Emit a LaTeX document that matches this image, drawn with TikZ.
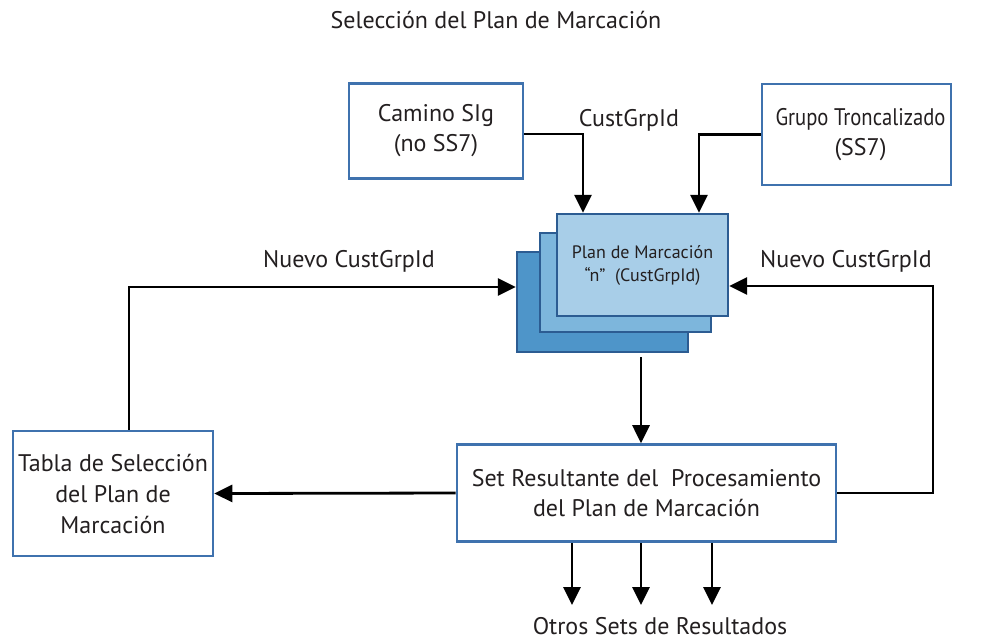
\documentclass[tikz,border=0pt]{standalone}
\usepackage{graphicx}
\usepackage{fontspec}
\setmainfont{PT Sans}
\usetikzlibrary{arrows.meta}
\definecolor{bord}{HTML}{3F72AE}
\definecolor{sbord}{HTML}{2C5C92}
\definecolor{f1}{HTML}{A8CEE8}
\definecolor{f2}{HTML}{7DB6DC}
\definecolor{f3}{HTML}{4E95C9}
\definecolor{txt}{HTML}{231F20}
\tikzset{
  box/.style={draw=bord, line width=2.6pt, fill=white, align=center, text=txt, font=\fontsize{24}{30}\selectfont, inner sep=0pt},
  sbox/.style={draw=sbord, line width=2.4pt, minimum width=171pt, inner sep=0pt, align=center, text=txt},
  arr/.style={line width=2.8pt, -{Triangle[width=17pt,length=18pt]}},
  lbl/.style={text=txt, font=\fontsize{24}{28}\selectfont, inner sep=0pt},
}
\begin{document}
\begin{tikzpicture}[x=1pt,y=-1pt]
\useasboundingbox (0,0) rectangle (995,641);
\node[lbl] (title) at (496,20) {Selección del Plan de Marcación};
\node[box, minimum width=174pt, minimum height=95pt] (camino) at (436,131) {Camino SIg\\(no SS7)};
\node[box, minimum width=189pt, minimum height=101pt] (grupo) at (856.5,134.5) {\hspace*{8pt}\scalebox{0.86}[1]{Grupo Troncalizado}\\\hspace*{8pt}(SS7)};
\node[sbox, fill=f3, minimum height=100pt] (back) at (602.5,302) {};
\node[sbox, fill=f2, minimum height=99pt] (mid) at (625.5,282.5) {};
\node[sbox, fill=f1, minimum height=102pt, font=\fontsize{18}{24}\selectfont] (front) at (642.5,265) {Plan de Marcación\\[-1pt]``n''\ \ (CustGrpId)};
\node[box, minimum width=379pt, minimum height=97pt] (set) at (646.5,493) {Set Resultante del\ \ Procesamiento\\del Plan de Marcación};
\node[box, minimum width=200pt, minimum height=125pt, font=\fontsize{24}{31}\selectfont] (tabla) at (113,493.5) {Tabla de Selección\\del Plan de\\Marcación};
\node[lbl] (cg) at (629,120) {CustGrpId};
\node[lbl] (nl) at (349,261) {Nuevo CustGrpId};
\node[lbl] (nr) at (846,261) {Nuevo CustGrpId};
\node[lbl] (otros) at (660,626) {Otros Sets de Resultados};
\coordinate (dtop) at (641,357);
\coordinate (o1) at (572,605);
\coordinate (o2) at (641,605);
\coordinate (o3) at (712,605);
\coordinate (rc) at (933,493);
\draw[arr] ([yshift=-3pt]camino.east) -| ([xshift=-59.5pt]front.north);
\draw[arr] (grupo.west) -| ([xshift=56.5pt]front.north);
\draw[arr] ([xshift=16pt]tabla.north) |- ([yshift=15pt]back.west);
\draw[arr] (set.east) -- (rc) |- ([yshift=-21pt]front.east);
\draw[arr] (dtop) -- (dtop |- set.north);
\draw[arr] (set.west) -- (tabla.east);
\draw[arr] (o1 |- set.south) -- (o1);
\draw[arr] (o2 |- set.south) -- (o2);
\draw[arr] (o3 |- set.south) -- (o3);
\end{tikzpicture}
\end{document}
